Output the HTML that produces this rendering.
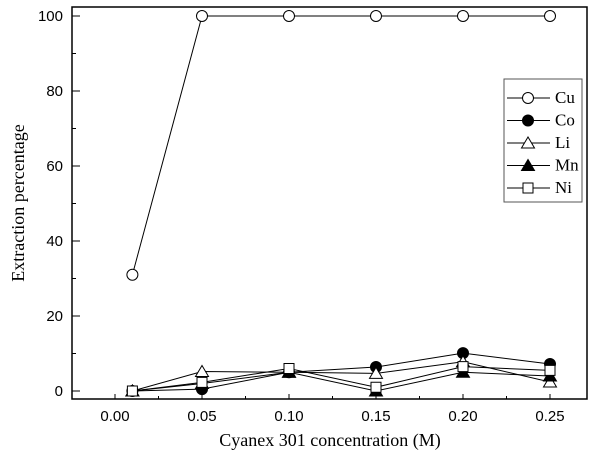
<!DOCTYPE html>
<html><head><meta charset="utf-8"><style>
body{margin:0;background:#fff}
svg{display:block;font-family:"Liberation Serif",serif}
</style></head><body>
<svg id="c" width="606" height="464"></svg>
<script>
const xs=[0.01,0.05,0.10,0.15,0.20,0.25];
const cu=[31,100,100,100,100,100];
const co=[0,0.5,5,6.4,10.1,7.2];
const li=[0,5.2,5,4.7,7.8,2.4];
const mn=[0,2,5,0,5,4];
const ni=[0,2.3,6,1,6.5,5.5];
const xTicks=[0,0.05,0.10,0.15,0.20,0.25];
const xTickLabels=["0.00","0.05","0.10","0.15","0.20","0.25"];
const yTicks=[0,20,40,60,80,100];
const seriesNames=["Cu","Co","Li","Mn","Ni"];
const L=72,R=587,T=7,B=399;
const X=v=>115+v*1740;
const Y=v=>391-v*3.75;
const svg=document.getElementById('c');
const NS='http://www.w3.org/2000/svg';
function mk(t,a,p){const e=document.createElementNS(NS,t);for(const k in a)e.setAttribute(k,a[k]);(p||svg).appendChild(e);return e;}
let fr=mk('rect',{x:L,y:T,width:R-L,height:B-T,fill:'none',stroke:'#000','stroke-width':1.5});


const SANS='"Liberation Sans",sans-serif';
xTicks.forEach((t,i)=>{
 let l=mk('line',{x1:X(t),x2:X(t),y1:B,y2:B-5,stroke:'#000'});
 
 
 if(i<xTicks.length-1){let m=mk('line',{x1:X(t+0.025),x2:X(t+0.025),y1:B,y2:B-3,stroke:'#000'});
 
 }
 let tx=mk('text',{x:X(t),y:B+22,'text-anchor':'middle','font-size':15,'font-family':SANS});
 tx.textContent=xTickLabels[i];
 
 
});
yTicks.forEach((t,i)=>{
 let l=mk('line',{x1:L,x2:L+8,y1:Y(t),y2:Y(t),stroke:'#000'});
 
 
 if(i<yTicks.length-1){let m=mk('line',{x1:L,x2:L+4,y1:Y(t+10),y2:Y(t+10),stroke:'#000'});
 
 }
 let tx=mk('text',{x:L-9,y:Y(t)+5,'text-anchor':'end','font-size':15,'font-family':SANS});
 tx.textContent=t;
 
 
});
let xl=mk('text',{x:330,y:446,'text-anchor':'middle','font-size':18});
xl.textContent='Cyanex 301 concentration (M)';


let yl=mk('text',{x:0,y:0,'text-anchor':'middle','font-size':18,transform:'translate(24,203) rotate(-90)'});
yl.textContent='Extraction percentage';


function marker(type,cx,cy,g){
 const s={fill:type.endsWith('f')?'#000':'#fff',stroke:'#000','stroke-width':1};
 if(type[0]=='c')return mk('circle',Object.assign({cx,cy,r:5.5},s),g);
 if(type[0]=='t')return mk('polygon',Object.assign({points:`${cx},${cy-6} ${cx-6.5},${cy+5} ${cx+6.5},${cy+5}`},s),g);
 return mk('rect',Object.assign({x:cx-5,y:cy-5,width:10,height:10},s),g);
}
const all=[cu,co,li,mn,ni];
const types=['co','cf','to','tf','so'];
all.forEach((d,si)=>{
 const g=mk('g',{});
 
 
 mk('polyline',{points:d.map((v,i)=>X(xs[i])+','+Y(v)).join(' '),fill:'none',stroke:'#000','stroke-width':1},g);
 d.forEach((v,i)=>{let m=marker(types[si],X(xs[i]),Y(v),g);
  
  });
});
const lg=mk('g',{});


mk('rect',{x:504,y:79,width:78,height:123,fill:'#fff',stroke:'#555','stroke-width':1},lg);
seriesNames.forEach((n,i)=>{
 const y=98+i*22.5;
 const e=mk('g',{},lg);
 
 
 mk('line',{x1:507,x2:550,y1:y,y2:y,stroke:'#000'},e);
 marker(types[i],528,y,e);
 const t=mk('text',{x:555,y:y+5,'font-size':17},e);t.textContent=n;
});
</script>
</body></html>
